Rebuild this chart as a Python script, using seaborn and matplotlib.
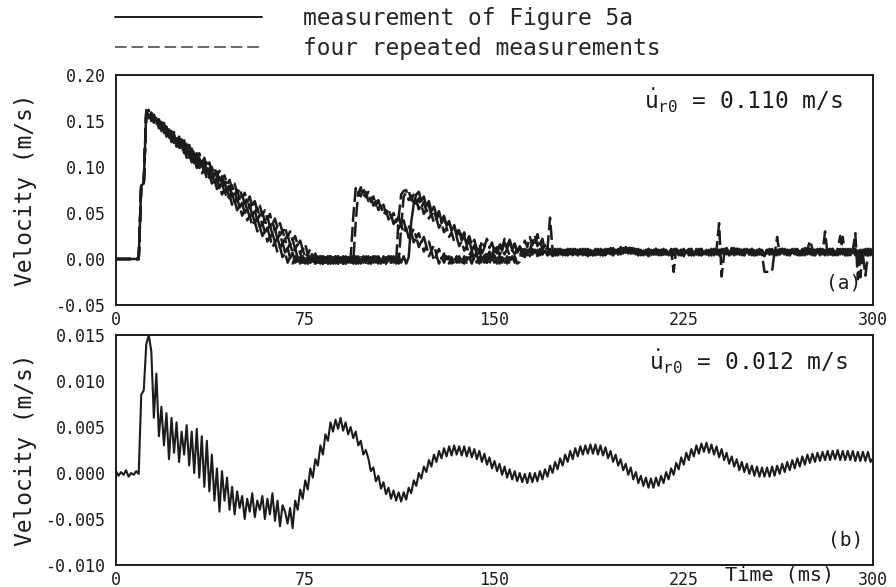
import numpy as np
import pandas as pd
import matplotlib
matplotlib.use('Agg')
import matplotlib.pyplot as plt
from matplotlib.lines import Line2D
from matplotlib.ticker import FormatStrFormatter
import seaborn as sns

# time axis in ms, one sample per ms
time_ms = np.arange(0, 301)

# panel (a), u_r0 = 0.110 m/s, velocities in mm/s
fig5a = [
    0, 0, 0, 0, 0, 0, 0, 0, 0, 0,
    80, 82, 162, 153, 159, 148, 153, 142, 148, 137,
    142, 132, 137, 126, 131, 121, 126, 115, 121, 110,
    115, 104, 110, 99, 104, 94, 99, 88, 93, 83,
    88, 77, 83, 72, 77, 66, 72, 61, 66, 56,
    61, 50, 55, 45, 50, 39, 45, 34, 39, 29,
    34, 23, 28, 18, 23, 12, 18, 7, 12, 1,
    7, -4, 2, -5, 3, -5, 3, -4, 2, -5,
    3, -5, 3, -4, 3, -5, 2, -5, 3, -4,
    3, -5, 2, -4, 3, -5, 3, -5, 2, -4,
    3, -5, 3, -4, 2, -5, 3, -5, 3, -4,
    2, -5, 3, -4, 3, -5, 2, 40, 60, 70,
    73, 63, 68, 57, 63, 52, 57, 47, 52, 41,
    47, 36, 41, 31, 36, 25, 31, 20, 25, 15,
    20, 9, 15, 4, 9, -1, 4, -4, 3, 2,
    10, 6, 15, 9, 18, 11, 19, 10, 16, 7,
    13, 4, 11, 4, 11, 5, 10, 4, 11, 5,
    9, 4, 10, 3, 11, 5, 10, 4, 9, 5,
    11, 4, 10, 6, 11, 4, 9, 3, 10, 5,
    11, 5, 10, 4, 9, 6, 11, 4, 10, 5,
    12, 6, 13, 7, 12, 6, 11, 5, 10, 4,
    9, 3, 10, 5, 11, 4, 10, 5, 9, 4,
    10, 4, 11, 5, 10, 3, 9, 5, 11, 4,
    10, 5, 11, 6, 10, 4, 9, 5, 10, 4,
    11, 5, 10, 4, 12, 6, 11, 5, 10, 4,
    9, 5, 11, 4, 10, 5, 9, 3, 10, 5,
    11, 4, 10, 6, 11, 5, 10, 4, 9, 5,
    11, 4, 10, 5, 12, 5, 10, 4, 11, 6,
    10, 4, 9, 5, 11, 4, 10, 6, 11, 5,
    10, 4, 11, 5, 9, 4, 10, 6, 11, 5,
    9]

rep1 = [
    0, 0, 0, 0, 0, 0, 0, 0, 0, 0,
    80, 82, 160, 161, 150, 155, 145, 150, 139, 144,
    133, 138, 127, 133, 122, 127, 116, 121, 110, 115,
    105, 110, 99, 104, 93, 98, 87, 93, 82, 87,
    76, 81, 70, 75, 65, 70, 59, 64, 53, 58,
    47, 53, 42, 47, 36, 41, 30, 35, 25, 30,
    19, 24, 13, 18, 7, 13, 2, 7, -4, 2,
    -5, 3, -5, 2, -4, 3, -5, 3, -5, 2,
    -4, 3, -5, 2, -5, 3, -4, 3, -5, 2,
    -5, 3, -4, 2, 45, 77, 70, 78, 67, 73,
    63, 68, 58, 63, 53, 58, 48, 53, 43, 48,
    38, 43, 33, 38, 28, 34, 23, 29, 18, 24,
    13, 19, 8, 14, 3, 9, -2, 4, -5, 3,
    -4, 3, -5, 2, -5, 3, -4, 3, -5, 2,
    -4, 6, 2, 12, 8, 20, 13, 22, 12, 18,
    8, 13, 4, 10, 5, 11, 4, 10, 5, 11,
    4, 9, 5, 10, 3, 11, 5, 10, 4, 9,
    6, 11, 45, 10, 4, 11, 5, 9, 4, 10,
    5, 11, 4, 10, 5, 9, 3, 11, 6, 10,
    4, 11, 5, 10, 4, 9, 5, 12, 6, 11,
    5, 12, 7, 13, 6, 12, 5, 11, 4, 10,
    5, 11, 4, 9, 5, 10, 3, 11, 5, 10,
    4, 11, 5, 9, 4, 10, 6, 11, 4, 10,
    5, 9, 4, 11, 5, 10, 4, 11, 6, 10,
    4, 11, 5, 10, 6, 12, 5, 10, 4, 11,
    5, 10, 4, 9, 5, 11, 4, 10, 6, 11,
    5, 10, 4, 11, 5, 9, 4, 10, 5, 11,
    4, 10, 5, 12, 6, 11, 4, 10, 5, 11,
    6, 30, 5, 11, 4, 10, 5, 11, 6, 10,
    4, 11, 5, 10, 4, 9, 5, 11, 4, 10,
    6]

rep2 = [
    0, 0, 0, 0, 0, 0, 0, 0, 0, 0,
    80, 82, 160, 161, 151, 156, 146, 151, 141, 146,
    135, 141, 130, 136, 125, 130, 120, 125, 115, 120,
    110, 115, 104, 110, 99, 105, 94, 99, 89, 94,
    84, 89, 79, 84, 73, 79, 68, 74, 63, 68,
    58, 63, 53, 58, 48, 53, 42, 48, 37, 43,
    32, 37, 27, 32, 22, 27, 17, 22, 11, 17,
    6, 12, 1, 7, -4, 3, -5, 2, -5, 3,
    -4, 3, -5, 2, -5, 3, -4, 2, -5, 3,
    -5, 2, -4, 3, -5, 40, 73, 68, 77, 67,
    73, 62, 68, 58, 64, 54, 59, 49, 55, 45,
    50, 40, 46, 36, 42, 31, 37, 27, 33, 23,
    28, 18, 24, 14, 19, 9, 15, 5, 11, 0,
    6, -4, 3, -5, 2, -4, 3, -5, 3, -4,
    2, -5, 3, -4, 2, -5, 3, -4, 2, 5,
    12, 8, 17, 12, 22, 14, 21, 12, 17, 8,
    13, 5, 10, 4, 11, 5, 10, 3, 9, 5,
    11, 4, 10, 5, 9, 4, 11, 6, 10, 4,
    11, 5, 9, 4, 10, 6, 11, 5, 10, 4,
    9, 5, 11, 4, 10, 5, 12, 6, 11, 5,
    13, 6, 12, 7, 11, 5, 10, 4, 11, 5,
    10, 4, 9, 5, 11, 4, 10, 5, 9, 4,
    10, -14, 11, 5, 10, 4, 9, 5, 11, 4,
    10, 6, 11, 5, 9, 4, 10, 5, 11, 4,
    10, 5, 12, 6, 10, 4, 11, 5, 9, 4,
    10, 5, 11, 4, 9, 5, 10, 4, 11, 5,
    10, 4, 9, 5, 11, 6, 10, 4, 11, 5,
    10, 4, 11, 5, 10, 20, 11, 4, 9, 5,
    11, 4, 10, 5, 11, 4, 10, 5, 24, 4,
    11, 5, 10, 4, 11, -20, 10, 5, 11, 4,
    9]

rep3 = [
    0, 0, 0, 0, 0, 0, 0, 0, 0, 0,
    80, 82, 160, 154, 159, 149, 154, 144, 149, 139,
    144, 134, 139, 129, 134, 124, 130, 119, 125, 114,
    120, 109, 115, 104, 110, 99, 105, 94, 100, 90,
    95, 85, 90, 80, 85, 75, 80, 70, 75, 65,
    70, 60, 66, 55, 61, 50, 56, 45, 51, 40,
    46, 35, 41, 30, 36, 26, 31, 21, 26, 16,
    21, 11, 16, 6, 11, 1, 6, -4, 3, -5,
    2, -4, 3, -5, 3, -5, 2, -4, 3, -5,
    2, -5, 3, -4, 3, -5, 2, -5, 3, -4,
    2, -5, 3, -5, 3, -4, 2, -5, 3, -4,
    3, -5, 45, 70, 74, 75, 64, 69, 59, 64,
    54, 59, 49, 54, 44, 49, 39, 44, 34, 39,
    29, 34, 24, 29, 19, 24, 14, 19, 9, 14,
    4, 9, -2, 4, -5, 3, -4, 3, -5, 2,
    -4, 3, -5, 2, -4, 3, -5, 3, -4, 6,
    14, 9, 20, 13, 24, 15, 26, 14, 21, 10,
    15, 6, 11, 5, 10, 4, 11, 5, 9, 4,
    10, 5, 11, 4, 9, 5, 10, 6, 11, 4,
    10, 5, 9, 4, 11, 5, 10, 4, 12, 6,
    11, 7, 13, 6, 12, 5, 10, 4, 11, 5,
    9, 4, 10, 5, 11, 4, 9, 5, 10, 4,
    11, 5, 10, 4, 9, 5, 11, 4, 10, 5,
    11, 4, 10, 5, 9, 6, 11, 4, 10, 39,
    -19, 5, 10, 4, 11, 5, 12, 6, 10, 4,
    11, 5, 10, 4, 9, 5, 11, 4, 10, 5,
    10, 4, 24, 5, 11, 4, 10, 5, 9, 4,
    10, 5, 11, 4, 10, 6, 11, 5, 10, 4,
    9, 5, 11, 4, 10, 5, 11, 25, 10, 4,
    10, 5, 9, 28, -22, 5, 11, 4, 10, 5,
    10]

rep4 = [
    0, 0, 0, 0, 0, 0, 0, 0, 0, 0,
    80, 82, 160, 162, 151, 157, 147, 152, 142, 148,
    137, 143, 132, 138, 128, 133, 123, 129, 118, 124,
    114, 119, 109, 115, 104, 110, 100, 105, 95, 100,
    90, 96, 85, 91, 81, 86, 76, 82, 71, 77,
    67, 72, 62, 68, 57, 63, 52, 58, 48, 53,
    43, 49, 38, 44, 34, 39, 29, 35, 24, 30,
    20, 25, 15, 20, 10, 16, 5, 11, 1, 6,
    -4, 3, -5, 2, -4, 3, -5, 3, -4, 2,
    -5, 3, -4, 2, -5, 3, -5, 2, -4, 3,
    -5, 2, -4, 3, -5, 3, -4, 2, -5, 3,
    -4, 2, -5, 35, 68, 72, 74, 64, 70, 60,
    66, 56, 62, 52, 58, 47, 53, 43, 49, 39,
    45, 35, 41, 31, 37, 27, 33, 23, 29, 19,
    25, 15, 21, 10, 16, 6, 12, 2, 8, -2,
    4, -5, 3, -4, 3, -5, 2, -4, 3, -5,
    -3, 5, 2, 12, 8, 20, 14, 27, 16, 22,
    9, 13, 5, 10, 4, 11, 5, 10, 6, 11,
    4, 9, 5, 10, 4, 11, 5, 10, 4, 9,
    5, 11, 4, 10, 6, 11, 5, 10, 4, 11,
    6, 13, 7, 12, 6, 11, 5, 10, 4, 9,
    5, 11, 4, 10, 5, 9, 4, 10, 5, 11,
    4, 10, 5, 9, 4, 11, 5, 10, 4, 9,
    5, 11, 4, 10, 5, 9, 4, 11, 5, 10,
    4, 11, 6, 12, 5, 10, 4, 11, 5, 9,
    4, 10, 5, 11, 4, 10, 5, -14, -14, -14,
    -14, 9, 5, 10, 4, 11, 5, 9, 4, 10,
    5, 11, 4, 10, 5, 11, 6, 10, 4, 11,
    5, 10, 4, 11, 5, 9, 4, 10, 5, 11,
    4, 10, 5, 11, 6, 10, 4, -18, 5, 11,
    4]

# panel (b), u_r0 = 0.012 m/s, velocity in units of 0.1 mm/s
low_speed = [
    2, -3, 1, -2, 3, -4, 0, -2, 2, -1,
    85, 90, 140, 150, 132, 60, 108, 40, 72, 30,
    65, 15, 60, 22, 55, 12, 45, 20, 52, 8,
    45, 0, 48, -5, 40, -15, 35, -20, 20, -30,
    5, -42, 2, -30, -5, -40, -15, -45, -20, -38,
    -25, -50, -28, -42, -22, -48, -30, -40, -25, -50,
    -28, -45, -22, -52, -30, -58, -35, -42, -55, -38,
    -60, -30, -40, -18, -28, -8, -18, 5, -5, 15,
    8, 30, 20, 42, 35, 55, 45, 58, 48, 60,
    46, 55, 42, 50, 38, 45, 30, 35, 20, 25,
    16, 2, 6, -9, -3, -17, -10, -23, -16, -28,
    -19, -30, -21, -31, -21, -29, -16, -22, -8, -14,
    0, -6, 7, 1, 14, 7, 20, 12, 24, 16,
    27, 18, 29, 19, 30, 20, 29, 19, 29, 18,
    28, 17, 26, 15, 24, 12, 21, 9, 17, 5,
    13, 2, 10, -2, 7, -5, 4, -7, 2, -9,
    0, -10, -1, -11, 0, -10, 0, -9, 2, -7,
    4, -4, 8, 0, 12, 4, 16, 8, 20, 12,
    24, 15, 27, 18, 29, 20, 30, 21, 31, 21,
    31, 20, 30, 19, 28, 16, 24, 12, 20, 8,
    15, 3, 10, -2, 6, -7, 1, -11, -3, -14,
    -5, -16, -6, -16, -5, -14, -3, -11, 1, -7,
    5, -2, 11, 4, 17, 9, 22, 14, 26, 18,
    30, 21, 32, 23, 33, 22, 31, 20, 29, 17,
    26, 14, 22, 10, 18, 7, 15, 3, 12, 1,
    10, -1, 8, -3, 7, -4, 6, -4, 6, -4,
    7, -3, 8, -1, 10, 1, 12, 3, 14, 5,
    16, 7, 18, 9, 20, 11, 21, 12, 22, 13,
    23, 14, 24, 14, 24, 15, 25, 14, 24, 14,
    24, 14, 24, 13, 23, 13, 23, 13, 23, 12,
    16]

run_names = ['fig5a', 'rep1', 'rep2', 'rep3', 'rep4']
legend_labels = ['measurement of Figure 5a', 'four repeated measurements']
x_ticks = [0, 75, 150, 225, 300]

runs = [fig5a, rep1, rep2, rep3, rep4]
for name, r in zip(run_names, runs):
    assert len(r) == len(time_ms), (name, len(r))
assert len(low_speed) == len(time_ms)

top = pd.DataFrame({
    'Time': np.tile(time_ms, len(runs)),
    'Velocity': np.concatenate(runs) / 1000.0,
    'run': np.repeat(run_names, len(time_ms)),
})
bottom = pd.DataFrame({'Time': time_ms, 'Velocity': np.array(low_speed) / 10000.0})

sns.set_style('white')
plt.rcParams['font.family'] = ['DejaVu Sans Mono', 'DejaVu Sans']
plt.rcParams['mathtext.fontset'] = 'dejavusans'
plt.rcParams['axes.unicode_minus'] = False

ink = '#1c1c1c'
fig = plt.figure(figsize=(8.96, 5.87), dpi=100)
ax1 = fig.add_axes([116 / 896, 1 - 305 / 587, 757 / 896, 230 / 587])
ax2 = fig.add_axes([116 / 896, 1 - 565 / 587, 757 / 896, 230 / 587])

dash_map = {'fig5a': '', 'rep1': (6, 2), 'rep2': (6, 2), 'rep3': (6, 2), 'rep4': (6, 2)}
sns.lineplot(data=top, x='Time', y='Velocity', hue='run', style='run',
             palette={n: ink for n in run_names}, dashes=dash_map,
             estimator=None, sort=False, legend=False, lw=1.8, ax=ax1)
sns.lineplot(data=bottom, x='Time', y='Velocity', color=ink,
             estimator=None, sort=False, lw=1.5, ax=ax2)

for ax, ylim, fmt in [(ax1, (-0.05, 0.20), '%.2f'), (ax2, (-0.010, 0.015), '%.3f')]:
    ax.set_xlim(0, 300)
    ax.set_ylim(*ylim)
    ax.set_xticks(x_ticks)
    ax.set_yticks(np.linspace(ylim[0], ylim[1], 6))
    ax.yaxis.set_major_formatter(FormatStrFormatter(fmt))
    ax.tick_params(direction='inout', length=5, width=1, colors=ink, labelsize=12)
    ax.tick_params(axis='x', pad=1.5)
    ax.tick_params(axis='y', pad=5)
    for sp in ax.spines.values():
        sp.set_linewidth(1.4)
        sp.set_color(ink)
    ax.set_xlabel('')
    ax.set_ylabel('Velocity (m/s)', fontsize=16.5, color=ink)
    ax.yaxis.set_label_coords(-0.105, 0.5)

ax2.set_xlabel('Time (ms)', fontsize=14.5, color=ink, va='center')
ax2.xaxis.set_label_coords(0.876, -0.042)

ax1.text(288, 0.172, r'$\dot{\mathtt{u}}_{\mathtt{r0}}$ = 0.110 m/s', ha='right', va='center', fontsize=16.5, color=ink)
ax2.text(290, 0.0121, r'$\dot{\mathtt{u}}_{\mathtt{r0}}$ = 0.012 m/s', ha='right', va='center', fontsize=16.5, color=ink)
ax1.text(288.5, -0.026, '(a)', ha='center', va='center', fontsize=14, color=ink)
ax2.text(289, -0.0073, '(b)', ha='center', va='center', fontsize=14, color=ink)

handles = [Line2D([], [], color=ink, lw=1.4),
           Line2D([], [], color='#666666', lw=1.4, dashes=(6, 2.5))]
fig.legend(handles, legend_labels, loc='upper left', bbox_to_anchor=(115 / 896, 0.988),
           frameon=False, fontsize=16.5, handlelength=6.4, handletextpad=1.8,
           labelspacing=0.3, borderpad=0, borderaxespad=0)

fig.savefig('out.png', dpi=100)
